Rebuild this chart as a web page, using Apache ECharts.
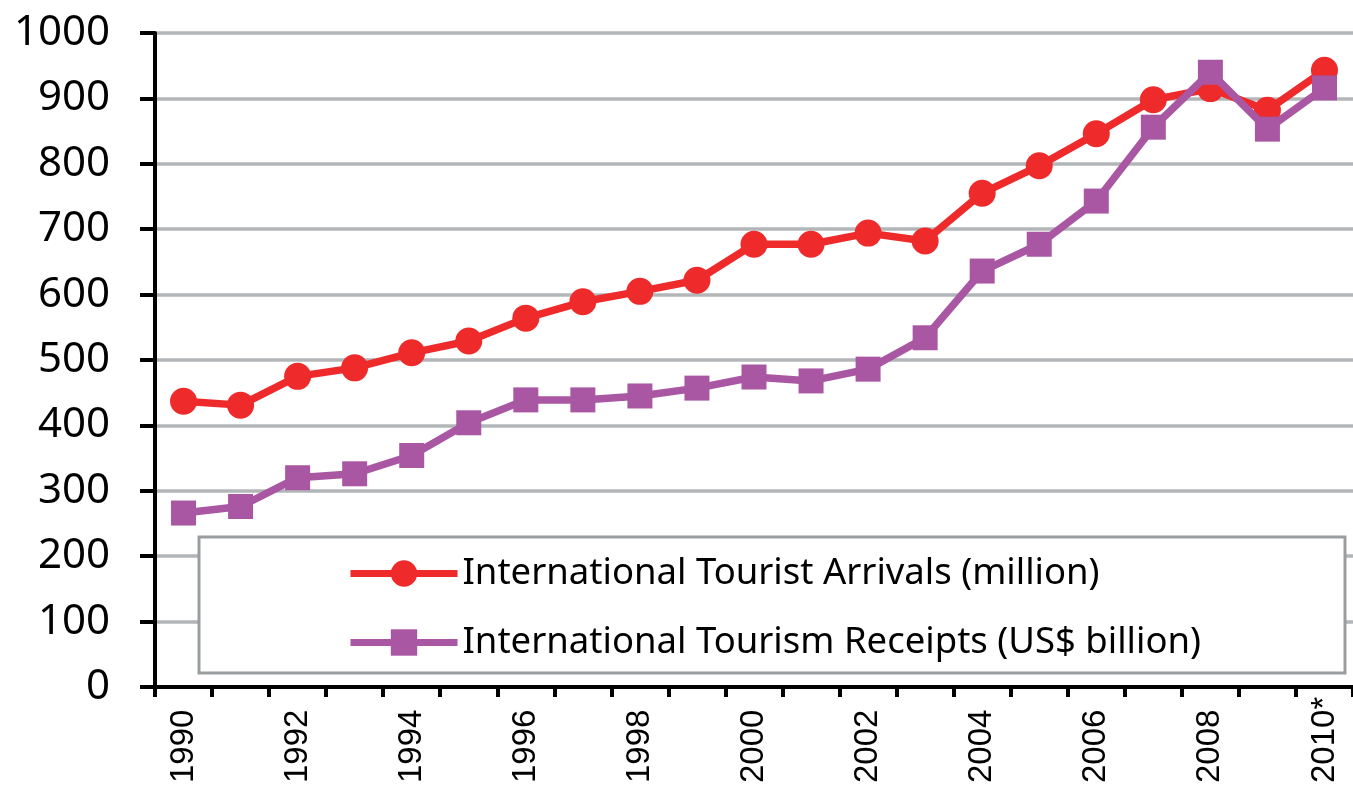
<!DOCTYPE html>
<html><head><meta charset="utf-8">
<script src="https://cdn.jsdelivr.net/npm/echarts@6/dist/echarts.min.js"></script>
<style>html,body{margin:0;padding:0;background:#fff}#c{width:1353px;height:793px}</style>
</head><body><div id="c"></div>
<script>
const years = ['1990','1991','1992','1993','1994','1995','1996','1997','1998','1999','2000','2001','2002','2003','2004','2005','2006','2007','2008','2009','2010*'];
const arrivals = [437,431,475,488,511,529,564,589,605,622,677,677,694,682,755,797,846,898,915,882,943];
const receipts = [266,276,320,326,354,404,439,439,445,457,474,468,486,534,636,677,743,856,940,853,916];
const yTicks = [0,100,200,300,400,500,600,700,800,900,1000];
const arrivalsName = 'International Tourist Arrivals (million)';
const receiptsName = 'International Tourism Receipts (US$ billion)';

const chart = echarts.init(document.getElementById('c'));
chart.setOption({
  animation:false,
  grid:{left:155,right:-2,top:33,bottom:106,containLabel:false},
  graphic:[{type:'rect',shape:{x:199,y:537,width:1146,height:136},style:{fill:'#fff',stroke:'#9a9da0',lineWidth:3},z:5}],
  legend:{
    orient:'vertical',left:347,top:555,padding:0,itemWidth:107,itemHeight:33,itemGap:32,z:10,
    lineStyle:{width:7},
    textStyle:{fontFamily:'Noto Sans',fontSize:36.5,color:'#000'},
    data:[arrivalsName,receiptsName]
  },
  xAxis:{
    type:'category',data:years,boundaryGap:true,
    axisLine:{lineStyle:{color:'#000',width:4}},
    axisTick:{show:true,interval:0,length:10,lineStyle:{color:'#000',width:4}},
    axisLabel:{interval:1,rotate:90,align:'left',verticalAlign:'middle',margin:96,fontFamily:'Liberation Sans',fontSize:33,color:'#000'}
  },
  yAxis:{
    type:'value',min:yTicks[0],max:yTicks[yTicks.length-1],interval:100,
    axisLine:{show:true,lineStyle:{color:'#000',width:4}},
    axisTick:{show:true,length:15,lineStyle:{color:'#000',width:4}},
    axisLabel:{margin:45,fontFamily:'Noto Sans',fontSize:42,color:'#000',formatter:v=>String(v)},
    splitLine:{show:true,lineStyle:{color:'#b3b6b9',width:3.5}}
  },
  series:[
    {name:arrivalsName,type:'line',data:arrivals,symbol:'circle',symbolSize:27,
     lineStyle:{color:'#ee2a2b',width:7.5},itemStyle:{color:'#ee2a2b'},z:3},
    {name:receiptsName,type:'line',data:receipts,symbol:'rect',symbolSize:25,
     lineStyle:{color:'#a957a3',width:7.5},itemStyle:{color:'#a957a3'},z:4}
  ]
});
</script></body></html>
